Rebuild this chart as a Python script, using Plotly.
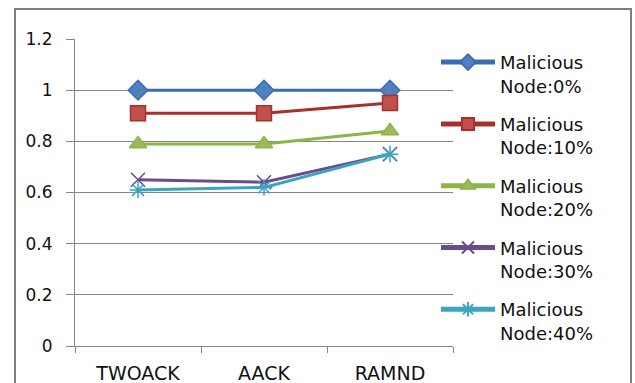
import plotly.graph_objects as go

categories = ["TWOACK", "AACK", "RAMND"]
series_names = ["Malicious<br>Node:0%", "Malicious<br>Node:10%", "Malicious<br>Node:20%",
                "Malicious<br>Node:30%", "Malicious<br>Node:40%"]
values_0 = [1.0, 1.0, 1.0]
values_10 = [0.91, 0.91, 0.95]
values_20 = [0.79, 0.79, 0.84]
values_30 = [0.65, 0.64, 0.75]
values_40 = [0.61, 0.62, 0.75]
y_ticks = [0, 0.2, 0.4, 0.6, 0.8, 1, 1.2]
y_tick_labels = ["0", "0.2", "0.4", "0.6", "0.8", "1", "1.2"]

styles = [
    dict(line="#3A6DB3", fill="#4F81BD", edge="#3A6DB3", symbol="diamond", size=15),
    dict(line="#A8302C", fill="#C0504D", edge="#A8302C", symbol="square", size=15),
    dict(line="#8DB446", fill="#9BBB59", edge="#8DB446", symbol="triangle-up", size=15),
    dict(line="#6A4C8C", fill="#6A4C8C", edge="#6A4C8C", symbol="x-thin-open", size=14),
    dict(line="#3AA5C2", fill="#3AA5C2", edge="#1F7E9A", symbol="asterisk-open", size=14),
]
all_values = [values_0, values_10, values_20, values_30, values_40]

fig = go.Figure()
for i, (name, vals, st) in enumerate(zip(series_names, all_values, styles)):
    fig.add_trace(go.Scatter(
        x=categories, y=vals, name=name, mode="lines+markers",
        legendgroup=f"g{i}",
        line=dict(color=st["line"], width=3),
        marker=dict(symbol=st["symbol"], size=st["size"], color=st["fill"],
                    line=dict(color=st["edge"], width=1.5)),
    ))

fig.update_layout(
    width=635, height=383,
    margin=dict(l=75, r=182, t=39, b=37, autoexpand=False),
    paper_bgcolor="white", plot_bgcolor="white",
    font=dict(family="DejaVu Sans", size=17, color="#111111"),
    showlegend=True,
    legend=dict(x=0.955, xanchor="left", xref="paper",
                y=0.984, yanchor="top", yref="paper", maxheight=400,
                font=dict(size=18), tracegroupgap=12, itemwidth=54,
                itemsizing="constant", valign="top",
                bgcolor="rgba(0,0,0,0)"),
    xaxis=dict(type="category", showgrid=False, showline=True, linecolor="#868686",
               linewidth=1, ticks="outside", tickson="boundaries", ticklen=6,
               tickcolor="#868686", tickfont=dict(size=19), range=[-0.5, 2.5],
               ticklabelstandoff=10, automargin=False),
    yaxis=dict(range=[0, 1.2], tickvals=y_ticks, ticktext=y_tick_labels,
               showgrid=True, gridcolor="#868686", gridwidth=1, zeroline=False,
               showline=True, linecolor="#868686", linewidth=1,
               ticks="outside", ticklen=8, tickcolor="#868686",
               tickfont=dict(size=17), ticklabelstandoff=10, automargin=False),
    shapes=[dict(type="rect", xref="paper", yref="paper",
                 xsizemode="pixel", ysizemode="pixel", xanchor=0, yanchor=1,
                 x0=-60, x1=556, y0=30, y1=-400,
                 line=dict(color="#7F7F7F", width=2), fillcolor="rgba(0,0,0,0)",
                 layer="below")],
)

fig.write_html("out.html")
